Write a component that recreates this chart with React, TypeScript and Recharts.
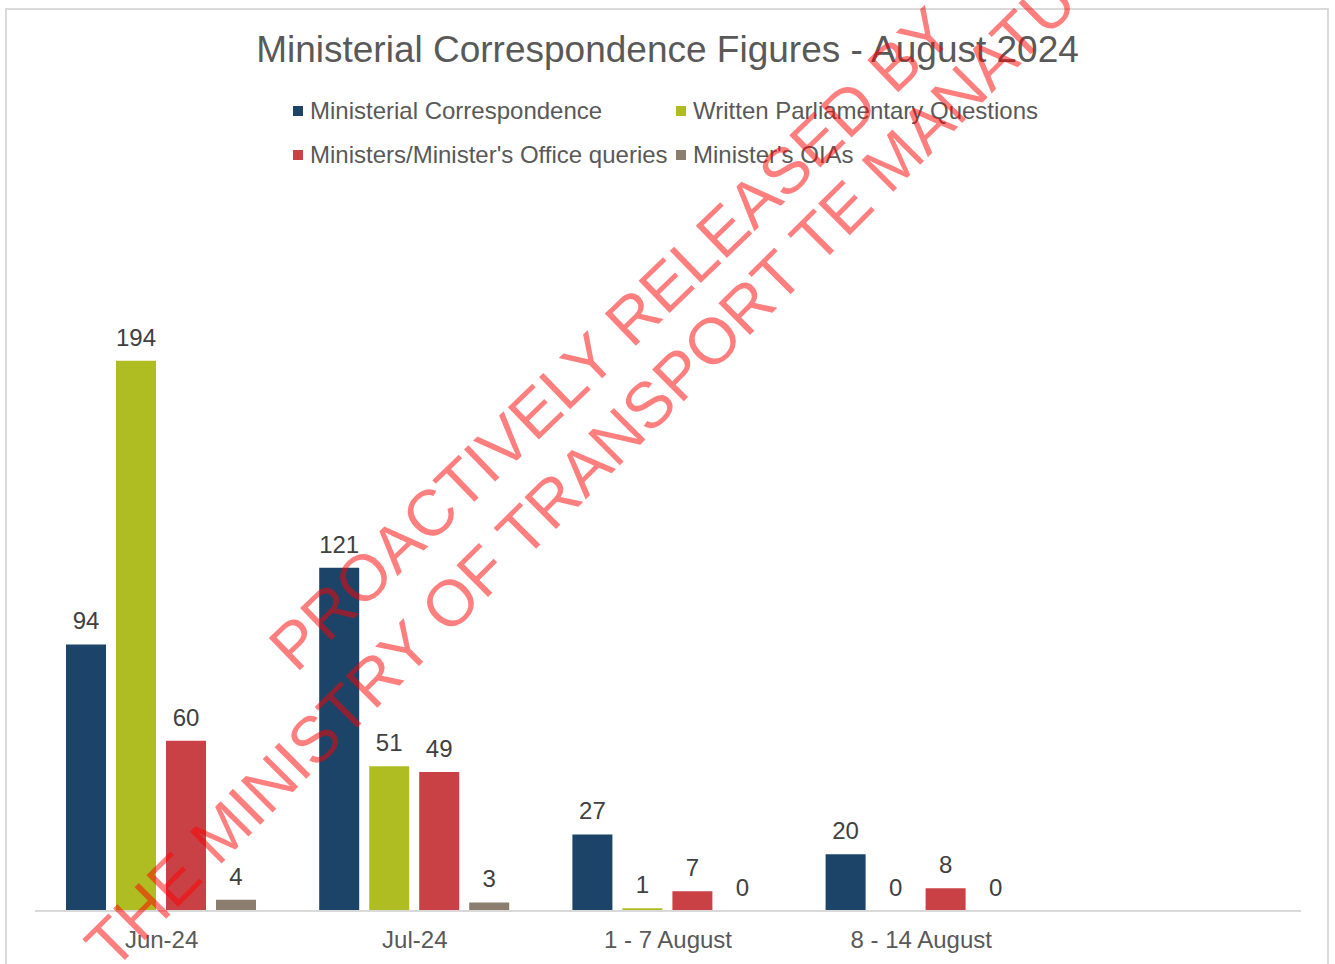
import { BarChart, Bar, XAxis, YAxis, Legend, LabelList } from 'recharts';

const categories = ['Jun-24', 'Jul-24', '1 - 7 August', '8 - 14 August', ''];
const ministerialCorrespondence = [94, 121, 27, 20, null];
const writtenParliamentaryQuestions = [194, 51, 1, 0, null];
const officeQueries = [60, 49, 7, 8, null];
const ministersOIAs = [4, 3, 0, 0, null];

const seriesNames = [
  'Ministerial Correspondence',
  'Written Parliamentary Questions',
  "Ministers/Minister's Office queries",
  "Minister's OIAs",
];
const seriesColors = ['#1b4468', '#afbd22', '#ca4145', '#8c7e6e'];

const watermarkLines = ['PROACTIVELY RELEASED BY', 'THE MINISTRY OF TRANSPORT TE MANATŪ WAKA'];

const FONT = '"Liberation Sans", Arial, sans-serif';

const data = categories.map((name, i) => ({
  name,
  [seriesNames[0]]: ministerialCorrespondence[i],
  [seriesNames[1]]: writtenParliamentaryQuestions[i],
  [seriesNames[2]]: officeQueries[i],
  [seriesNames[3]]: ministersOIAs[i],
}));

// legend is laid out in two fixed columns like the original
const legendCols = [293, 676];
const legendRows = [0, 44];

function ChartLegend() {
  return (
    <div style={{ position: 'relative', width: 1335, height: 90 }}>
      {seriesNames.map((name, i) => (
        <div
          key={name}
          style={{
            position: 'absolute',
            left: legendCols[i % 2],
            top: legendRows[Math.floor(i / 2)],
            height: 30,
            display: 'flex',
            alignItems: 'center',
            fontFamily: FONT,
            fontSize: 24,
            color: '#595959',
            whiteSpace: 'nowrap',
          }}
        >
          <span
            style={{
              width: 10,
              height: 10,
              background: seriesColors[i],
              marginRight: 7,
              display: 'inline-block',
            }}
          />
          {name}
        </div>
      ))}
    </div>
  );
}

export default function App() {
  return (
    <div
      style={{
        position: 'absolute',
        left: 0,
        top: 0,
        width: 1335,
        height: 964,
        overflow: 'hidden',
        background: '#fff',
      }}
    >
      <div
        style={{
          position: 'absolute',
          left: 5,
          top: 8,
          width: 1324,
          height: 1000,
          border: '2px solid #d9d9d9',
          boxSizing: 'border-box',
        }}
      />
      <div
        style={{
          position: 'absolute',
          left: 0,
          top: 28,
          width: 1335,
          textAlign: 'center',
          fontFamily: FONT,
          fontSize: 37,
          lineHeight: '44px',
          color: '#595959',
        }}
      >
        Ministerial Correspondence Figures - August 2024
      </div>
      <div style={{ position: 'absolute', left: 0, top: 0 }}>
        <BarChart
          width={1335}
          height={964}
          data={data}
          margin={{ top: 202, right: 34, bottom: 23, left: 35 }}
          barCategoryGap={31}
          barGap={10}
        >
          <XAxis
            dataKey="name"
            height={30}
            tickLine={false}
            tickSize={0}
            tickMargin={20}
            axisLine={{ stroke: '#d9d9d9', strokeWidth: 2 }}
            tick={{ fontSize: 24, fill: '#595959', fontFamily: FONT }}
            interval={0}
          />
          <YAxis hide domain={[0, 250]} />
          <Legend
            verticalAlign="middle"
            layout="horizontal"
            wrapperStyle={{ top: 96, left: 0, width: 1335 }}
            content={() => <ChartLegend />}
          />
          {seriesNames.map((name, i) => (
            <Bar
              key={name}
              dataKey={name}
              fill={seriesColors[i]}
              minPointSize={0.01}
              isAnimationActive={false}
            >
              <LabelList
                dataKey={name}
                position="top"
                offset={15}
                style={{ fontSize: 24, fill: '#404040', fontFamily: FONT }}
              />
            </Bar>
          ))}
        </BarChart>
      </div>
      <svg
        width={1335}
        height={964}
        style={{ position: 'absolute', left: 0, top: 0, pointerEvents: 'none' }}
      >
        <text
          x={296}
          y={674}
          transform="rotate(-44 296 674)"
          fontFamily={FONT}
          fontSize={65}
          fill="rgba(255,0,0,0.5)"
        >
          {watermarkLines[0]}
        </text>
        <text
          x={113}
          y={972}
          transform="rotate(-45 113 972)"
          fontFamily={FONT}
          fontSize={65}
          fill="rgba(255,0,0,0.5)"
        >
          {watermarkLines[1]}
        </text>
      </svg>
    </div>
  );
}
